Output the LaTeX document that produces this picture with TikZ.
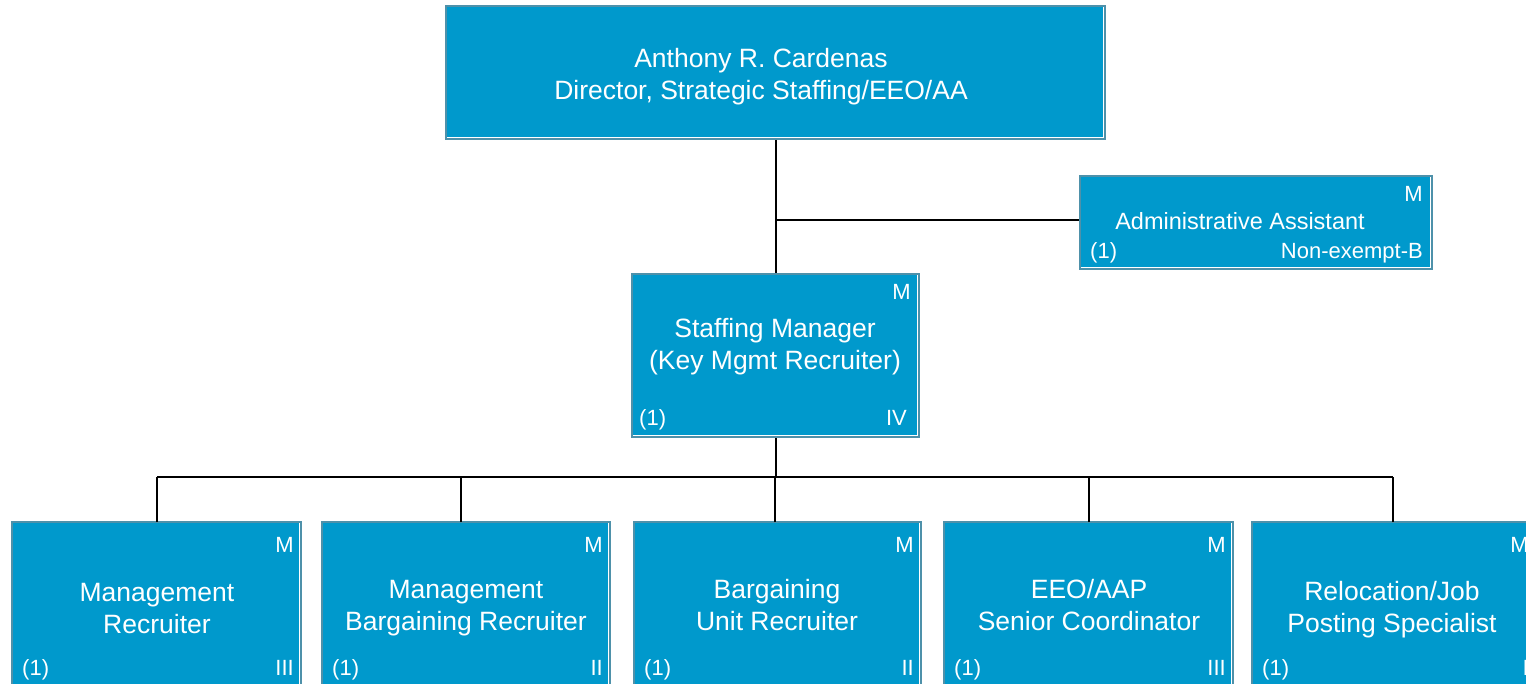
\documentclass[tikz,border=0pt]{standalone}
\usepackage{fontspec}
\setmainfont{Liberation Sans}
\usetikzlibrary{calc}
\definecolor{boxfill}{RGB}{0,153,204}
\definecolor{boxedge}{RGB}{78,145,170}
\begin{document}
\begin{tikzpicture}[x=1pt,y=-1pt,
  box/.style={draw=boxedge, line width=2pt, fill=boxfill, inner sep=0pt, rectangle},
  title/.style={text=white, align=center, font=\fontsize{26.5}{32}\selectfont, inner sep=0pt},
  titlesm/.style={text=white, align=center, font=\fontsize{23.5}{28}\selectfont, inner sep=0pt},
  small/.style={text=white, font=\fontsize{22}{25}\selectfont, inner sep=0pt},
  link/.style={draw=black, line width=2pt},
  shine/.style={draw=white, line width=1pt}
]
\useasboundingbox (0,0) rectangle (1526,684);
\clip (0,0) rectangle (1526,684);

% boxes
\node[box, minimum width=659pt, minimum height=133pt] (top) at (775.5,72.5) {};
\node[box, minimum width=352pt, minimum height=93pt] (admin) at (1256,222.5) {};
\node[box, minimum width=287pt, minimum height=163pt] (sm) at (775.5,355.5) {};
\node[box, minimum width=289pt, minimum height=180pt] (b1) at (156.5,612) {};
\node[box, minimum width=288pt, minimum height=180pt] (b2) at (466,612) {};
\node[box, minimum width=287pt, minimum height=180pt] (b3) at (777.5,612) {};
\node[box, minimum width=289pt, minimum height=180pt] (b4) at (1088.5,612) {};
\node[box, minimum width=284pt, minimum height=180pt] (b5) at (1394,612) {};

\foreach \n in {top,admin,sm,b1,b2,b3,b4,b5}
  \draw[shine] ([xshift=-2.5pt,yshift=-2pt]\n.north east) -- ([xshift=-2.5pt,yshift=2.5pt]\n.south east) -- ([xshift=2pt,yshift=2.5pt]\n.south west);

% connectors
\coordinate (bus) at (775,477);
\coordinate (adminbus) at (775,220);
\coordinate (p1) at (157,522);
\coordinate (p2) at (461,522);
\coordinate (p3) at (775,522);
\coordinate (p4) at (1089,522);
\coordinate (p5) at (1393,522);
\draw[link] (top.south) -- (sm.north);
\draw[link] (adminbus) -- (adminbus -| admin.west);
\draw[link] (sm.south) -- (sm.south |- bus);
\draw[link] (bus -| p1) -- (bus -| p5);
\foreach \n in {p1,p2,p3,p4,p5}
  \draw[link] (\n) -- (\n |- bus);

% main titles
\node[title] (ttop) at (761,77) {Anthony R. Cardenas\\Director, Strategic Staffing/EEO/AA};
\node[titlesm] (tadmin) at (1240,221) {Administrative Assistant};
\node[title] (tsm) at (775,347) {Staffing Manager\\(Key Mgmt Recruiter)};
\node[title] (tb1) at (157,609) {Management\\Recruiter};
\node[title] (tb2) at (466,608) {Management\\Bargaining Recruiter};
\node[title] (tb3) at (777,605) {Bargaining\\Unit Recruiter};
\node[title] (tb4) at (1089,605) {EEO/AAP\\Senior Coordinator};
\node[title] (tb5) at (1392,610) {Relocation/Job\\Posting Specialist};

% small labels: admin
\node[small, anchor=base east] (madmin) at ([xshift=-10pt,yshift=-27pt]admin.north east) {M};
\node[small, anchor=base west] (cadmin) at ([xshift=11pt,yshift=11pt]admin.south west) {(1)};
\node[small, anchor=base east] (gadmin) at ([xshift=-10pt,yshift=11pt]admin.south east) {Non-exempt-B};
% staffing manager
\node[small, anchor=base east] (msm) at ([xshift=-9pt,yshift=-27pt]sm.north east) {M};
\node[small, anchor=base west] (csm) at ([xshift=8pt,yshift=13pt]sm.south west) {(1)};
\node[small, anchor=base east] (gsm) at ([xshift=-13pt,yshift=13pt]sm.south east) {IV};
% bottom row
\foreach \n/\g in {b1/III,b2/II,b3/II,b4/III,b5/I} {
  \node[small, anchor=base east] (m\n) at ([xshift=-8pt,yshift=-31pt]\n.north east) {M};
  \node[small, anchor=base west] (c\n) at ([xshift=11pt,yshift=-154pt]\n.north west) {(1)};
  \node[small, anchor=base east] (g\n) at ([xshift=-8pt,yshift=-154pt]\n.north east) {\g};
}
\end{tikzpicture}
\end{document}
